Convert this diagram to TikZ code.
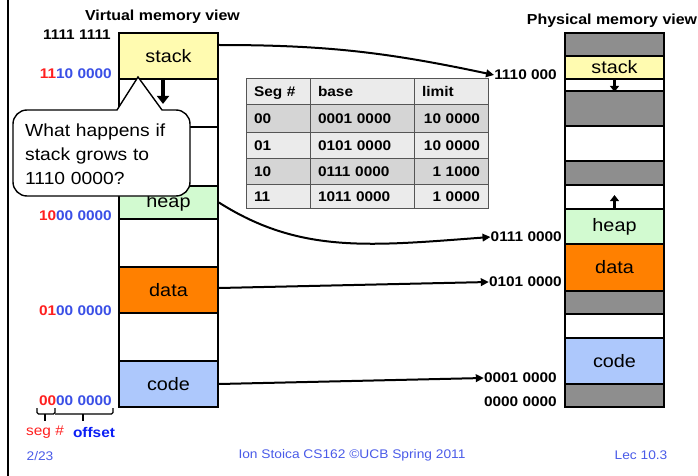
\documentclass[tikz,border=0pt]{standalone}
\usepackage{fontspec}
\setmainfont[FakeStretch=1.1]{Liberation Sans}
\usetikzlibrary{arrows.meta}
\definecolor{stackc}{HTML}{FFFBB0}
\definecolor{heapc}{HTML}{D2FAD0}
\definecolor{datac}{HTML}{FF8000}
\definecolor{codec}{HTML}{ADC8FC}
\definecolor{usedc}{HTML}{8E8E8E}
\definecolor{segred}{HTML}{FF1F1F}
\definecolor{offblue}{HTML}{3A4FE6}
\definecolor{strongblue}{HTML}{0A1EF5}
\definecolor{footblue}{HTML}{4A5BE8}
\definecolor{rowlight}{HTML}{EBEBEB}
\definecolor{rowdark}{HTML}{D5D5D5}
\definecolor{gridc}{HTML}{555555}
\begin{document}
\begin{tikzpicture}[x=1pt,y=-1pt,
  blk/.style={draw=black, line width=1.8pt, minimum width=99pt, inner sep=0pt,
    font=\fontsize{18}{20}\selectfont},
  lbl/.style={font=\bfseries\fontsize{14}{16}\selectfont, inner sep=0pt},
  ttl/.style={font=\bfseries\fontsize{14.5}{16}\selectfont, inner sep=0pt},
  cell/.style={draw=gridc, line width=1pt, inner ysep=0pt, inner xsep=8pt,
    text height=10pt, text depth=0pt, font=\bfseries\fontsize{14}{16}\selectfont},
  ca/.style={cell, text width=48pt, align=left},
  cb/.style={cell, text width=88pt, align=left},
  cc/.style={cell, text width=58pt, align=right},
  conn/.style={line width=2pt, -{Triangle[length=8pt,width=7.5pt]}},
  foot/.style={font=\fontsize{12.5}{14}\selectfont, text=footblue, inner sep=0pt}]
\useasboundingbox (0,0) rectangle (698,476);

% slide margin rule
\draw[line width=1.6pt] (8,0) -- (8,476);

% virtual address space
\node[ttl] (vtitle) at (162.5,17) {Virtual memory view};
\node[blk, fill=stackc, minimum height=46pt] (vstack) at (168.5,56) {stack};
\node[blk, fill=white, minimum height=48pt] (vfree1) at (168.5,103) {};
\node[blk, fill=white, minimum height=59pt] (vfree2) at (168.5,156.5) {};
\node[blk, fill=heapc, minimum height=33pt] (vheap) at (168.5,202.5) {heap};
\node[blk, fill=white, minimum height=48pt] (vfree3) at (168.5,243) {};
\node[blk, fill=datac, minimum height=46pt] (vdata) at (168.5,290) {data};
\node[blk, fill=white, minimum height=48pt] (vfree4) at (168.5,337) {};
\node[blk, fill=codec, minimum height=46pt] (vcode) at (168.5,384) {code};

% virtual addresses: segment bits in red, offset bits in blue
\node[lbl, anchor=east] (v1111) at (111,35) {1111 1111};
\node[lbl, anchor=east] (v1110) at (112,74) {\textcolor{segred}{11}\textcolor{offblue}{10 0000}};
\node[lbl, anchor=east] (v1000) at (112,216) {\textcolor{segred}{10}\textcolor{offblue}{00 0000}};
\node[lbl, anchor=east] (v0100) at (112,311) {\textcolor{segred}{01}\textcolor{offblue}{00 0000}};
\node[lbl, anchor=east] (v0000) at (112,401) {\textcolor{segred}{00}\textcolor{offblue}{00 0000}};

% brackets under the lowest address
\draw[line width=1.3pt, rounded corners=1.5pt] (37,408) -- (37,414) -- (55,414) -- (55,408);
\draw[line width=1.3pt, rounded corners=1.5pt] (55,414) -- (113,414) -- (113,408);
\draw[line width=1.3pt] (45,414) -- (45,421);
\draw[line width=1.3pt] (83,414) -- (83,421);
\node[font=\fontsize{14}{16}\selectfont, text=segred, inner sep=0pt] (segno) at (45,432) {seg \#};
\node[font=\bfseries\fontsize{14}{16}\selectfont, text=strongblue, inner sep=0pt] (offs) at (94,432) {offset};

% stack growth in the virtual view
\draw[line width=3.8pt, -{Triangle[width=12pt,length=8pt]}] ([xshift=-5.5pt]vstack.south) -- ++(0,24);

% segment table
\node[ca, fill=rowlight, minimum height=26pt] (h1) at (278,92) {Seg \#};
\node[cb, fill=rowlight, minimum height=26pt] (h2) at (362,92) {base};
\node[ca, fill=rowlight, minimum height=26pt, text width=58pt, align=left] (h3) at (451,92) {limit};
\node[ca, fill=rowdark, minimum height=27pt] (a1) at (278,118.5) {00};
\node[cb, fill=rowdark, minimum height=27pt] (a2) at (362,118.5) {0001 0000};
\node[cc, fill=rowdark, minimum height=27pt] (a3) at (451,118.5) {10 0000};
\node[ca, fill=rowlight, minimum height=26pt] (b1) at (278,145) {01};
\node[cb, fill=rowlight, minimum height=26pt] (b2) at (362,145) {0101 0000};
\node[cc, fill=rowlight, minimum height=26pt] (b3) at (451,145) {10 0000};
\node[ca, fill=rowdark, minimum height=26pt] (c1) at (278,171) {10};
\node[cb, fill=rowdark, minimum height=26pt] (c2) at (362,171) {0111 0000};
\node[cc, fill=rowdark, minimum height=26pt] (c3) at (451,171) {1 1000};
\node[ca, fill=rowlight, minimum height=24pt] (d1) at (278,196) {11};
\node[cb, fill=rowlight, minimum height=24pt] (d2) at (362,196) {1011 0000};
\node[cc, fill=rowlight, minimum height=24pt] (d3) at (451,196) {1 0000};

% physical memory
\node[ttl] (ptitle) at (612,21) {Physical memory view};
\node[blk, fill=usedc, minimum height=23pt] (pu1) at (614.5,44.5) {};
\node[blk, fill=stackc, minimum height=23pt] (pstack) at (614.5,67.5) {stack};
\node[blk, fill=white, minimum height=12pt] (pf1) at (614.5,85) {};
\node[blk, fill=usedc, minimum height=35pt] (pu2) at (614.5,108.5) {};
\node[blk, fill=white, minimum height=35pt] (pf2) at (614.5,143.5) {};
\node[blk, fill=usedc, minimum height=24pt] (pu3) at (614.5,173) {};
\node[blk, fill=white, minimum height=24pt] (pf3) at (614.5,197) {};
\node[blk, fill=heapc, minimum height=35pt] (pheap) at (614.5,226.5) {heap};
\node[blk, fill=datac, minimum height=47pt] (pdata) at (614.5,267.5) {data};
\node[blk, fill=usedc, minimum height=23pt] (pu4) at (614.5,302.5) {};
\node[blk, fill=white, minimum height=24pt] (pf4) at (614.5,326) {};
\node[blk, fill=codec, minimum height=46pt] (pcode) at (614.5,361) {code};
\node[blk, fill=usedc, minimum height=23pt] (pu5) at (614.5,395.5) {};

\draw[line width=2.8pt, -{Triangle[width=9pt,length=6pt]}] (pstack.south) -- ++(0,12);
\draw[line width=2.8pt, -{Triangle[width=9pt,length=6pt]}] (pheap.north) -- ++(0,-13);

% physical addresses
\node[lbl, anchor=east] (p1110) at (557,75) {1110 000};
\node[lbl, anchor=east] (p0111) at (562,237) {0111 0000};
\node[lbl, anchor=east] (p0101) at (562,282) {0101 0000};
\node[lbl, anchor=east] (p0001) at (557,378) {0001 0000};
\node[lbl, anchor=east] (p0000) at (557,402) {0000 0000};

% segment mappings
\draw[conn] ([yshift=11pt]vstack.east) to[out=0,in=168] (p1110.west);
\draw[conn] (vheap.east) .. controls (300,254) and (370,246) .. (p0111.west);
\draw[conn] ([yshift=2pt]vdata.east) -- (p0101.west);
\draw[conn] (vcode.east) -- (p0001.west);

% question balloon
\draw[fill=white, line width=1.4pt] (138,77) -- (162,110)
  [rounded corners=14pt] -- (190,110) -- (190,196) -- (13,196) -- (13,110)
  [sharp corners] -- (117,110) -- cycle;
\node[align=left, text width=150pt, inner sep=0pt, anchor=west,
  font=\fontsize{17.5}{24}\selectfont] (ask) at (25,154)
  {What happens if\\stack grows to\\1110 0000?};

% footer
\node[foot] (date) at (40,456) {2/23};
\node[foot] (credit) at (352,455) {Ion Stoica CS162 ©UCB Spring 2011};
\node[foot] (lec) at (641,455) {Lec 10.3};
\end{tikzpicture}
\end{document}
